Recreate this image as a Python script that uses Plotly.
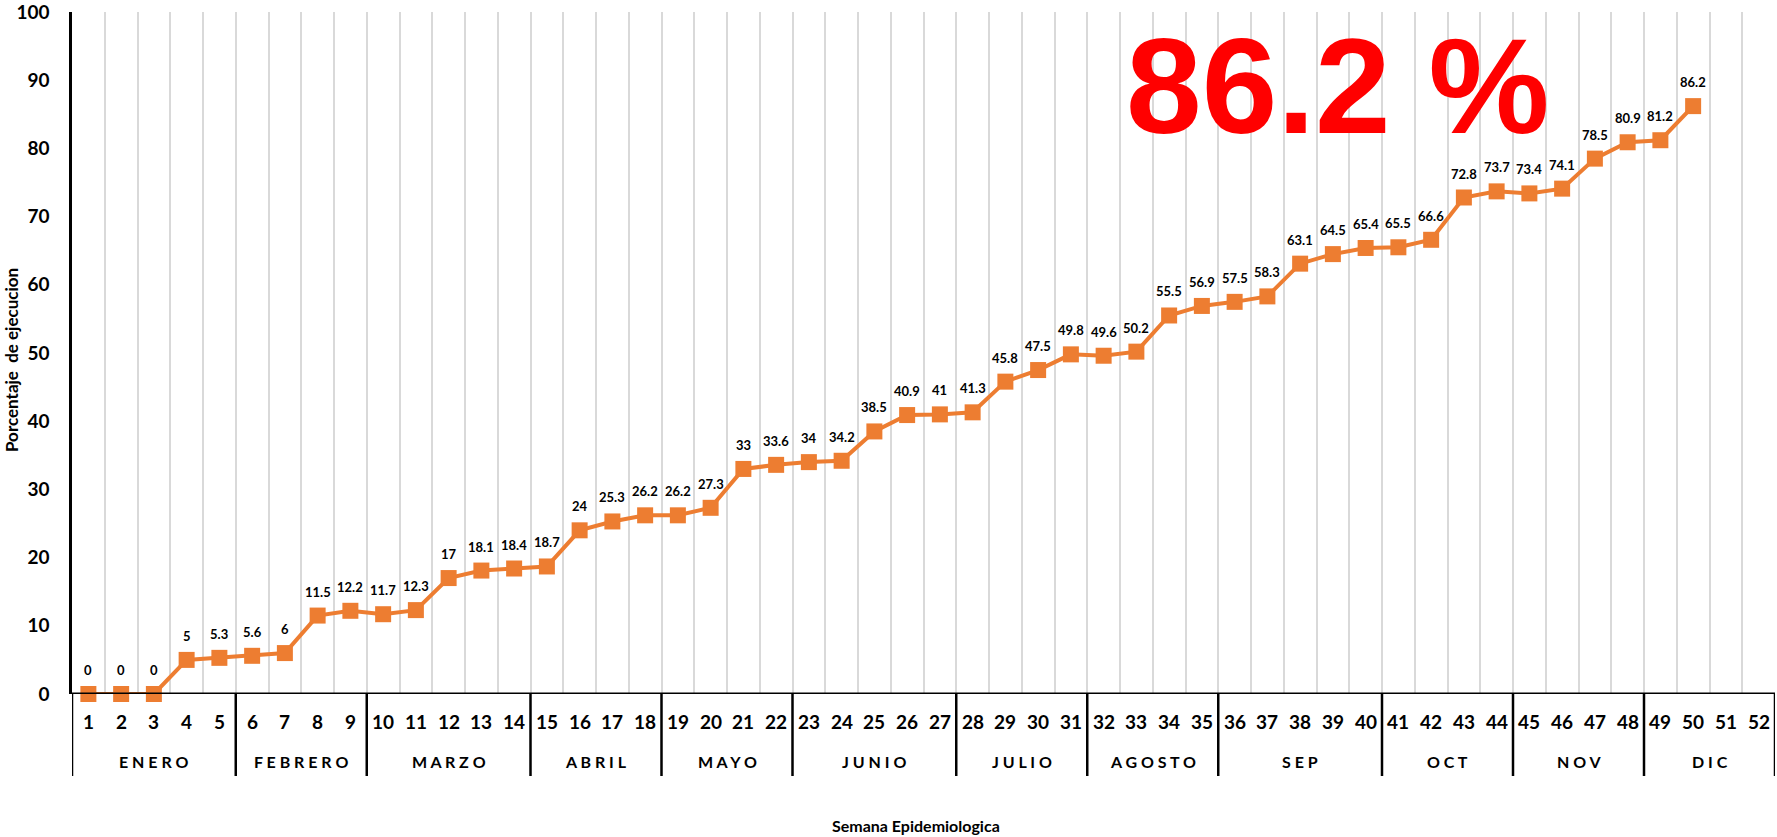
import plotly.graph_objects as go

weeks = list(range(1, 53))
values = [0, 0, 0, 5, 5.3, 5.6, 6, 11.5, 12.2, 11.7, 12.3, 17, 18.1, 18.4, 18.7,
          24, 25.3, 26.2, 26.2, 27.3, 33, 33.6, 34, 34.2, 38.5, 40.9, 41, 41.3,
          45.8, 47.5, 49.8, 49.6, 50.2, 55.5, 56.9, 57.5, 58.3, 63.1, 64.5, 65.4,
          65.5, 66.6, 72.8, 73.7, 73.4, 74.1, 78.5, 80.9, 81.2, 86.2]
months = ["ENERO", "FEBRERO", "MARZO", "ABRIL", "MAYO", "JUNIO", "JULIO",
          "AGOSTO", "SEP", "OCT", "NOV", "DIC"]
month_weeks = [5, 4, 5, 4, 4, 5, 4, 4, 5, 4, 4, 4]
y_ticks = list(range(0, 101, 10))
big_label = "86.2 %"

W, H = 1777, 837
ML, MR, MT, MB = 72, 2, 12, 143
ph = H - MT - MB
pw = W - ML - MR
AX = H - MB  # pixel row of the x axis

def py(px_from_axis):
    return -px_from_axis / ph

LBL = "Lato"
fig = go.Figure()
x_vals = weeks[:len(values)]
fig.add_trace(go.Scatter(
    x=x_vals, y=values, mode="lines+markers",
    line=dict(color="#ED7D31", width=4),
    marker=dict(symbol="square", size=16, color="#ED7D31"),
    cliponaxis=False, showlegend=False, hoverinfo="skip"))

ann = []
for x, v in zip(x_vals, values):
    ann.append(dict(x=x, y=v, xref="x", yref="y", text=f"{v:g}", showarrow=False,
                    xanchor="center", yanchor="middle", yshift=24,
                    font=dict(family=LBL, size=13, color="black", weight="bold")))
for w in weeks:
    ann.append(dict(x=w, y=py(27), xref="x", yref="paper", text=str(w), showarrow=False,
                    xanchor="center", yanchor="middle",
                    font=dict(family=LBL, size=19, color="black", weight="bold")))
shapes = []
start = 0.5
bounds = [start]
for m, n in zip(months, month_weeks):
    end = start + n
    ann.append(dict(x=(start + end) / 2, y=py(68), xref="x", yref="paper",
                    text=" ".join(m), showarrow=False, xanchor="center", yanchor="middle",
                    font=dict(family=LBL, size=16, color="black", weight="bold")))
    bounds.append(end)
    start = end
for b in bounds:
    shapes.append(dict(type="line", xref="x", yref="paper", x0=b, x1=b, y0=0, y1=py(82),
                       line=dict(color="black", width=2.5)))
shapes.append(dict(type="line", xref="paper", yref="y", x0=0, x1=1, y0=0, y1=0,
                   line=dict(color="black", width=3)))

ann.append(dict(x=(1337 - ML) / pw, y=(AX - 86) / ph, xref="paper", yref="paper",
                text=big_label, showarrow=False, xanchor="center", yanchor="middle",
                font=dict(family="Liberation Sans", size=136, color="#FF0000", weight="bold")))
ann.append(dict(x=(916 - ML) / pw, y=py(131), xref="paper", yref="paper",
                text="Semana Epidemiologica", showarrow=False,
                xanchor="center", yanchor="middle",
                font=dict(family=LBL, size=16, color="black", weight="bold")))
ann.append(dict(x=(11 - ML) / pw, y=(AX - 360) / ph, xref="paper", yref="paper",
                text="Porcentaje  de ejecucion", textangle=-90, showarrow=False,
                xanchor="center", yanchor="middle",
                font=dict(family=LBL, size=17, color="black", weight="bold")))

fig.update_layout(
    width=W, height=H, margin=dict(l=ML, r=MR, t=MT, b=MB, autoexpand=False),
    paper_bgcolor="white", plot_bgcolor="white",
    annotations=ann, shapes=shapes,
    xaxis=dict(range=[0.5, 52.5], tickmode="linear", tick0=0.5, dtick=1,
               showticklabels=False, showgrid=True, gridcolor="#D9D9D9", gridwidth=2,
               zeroline=False, showline=False, ticks=""),
    yaxis=dict(range=[0, 100], tickmode="array", tickvals=y_ticks,
               ticktext=[str(t) for t in y_ticks], showgrid=False,
               zeroline=False, showline=True, linecolor="black", linewidth=2.5,
               ticks="", ticklabelstandoff=16, ticklabeloverflow="allow",
               tickfont=dict(family=LBL, size=19, color="black", weight="bold")),
)
fig.write_html("out.html", config={"displayModeBar": False},
               post_script="document.body.style.margin='0';")
